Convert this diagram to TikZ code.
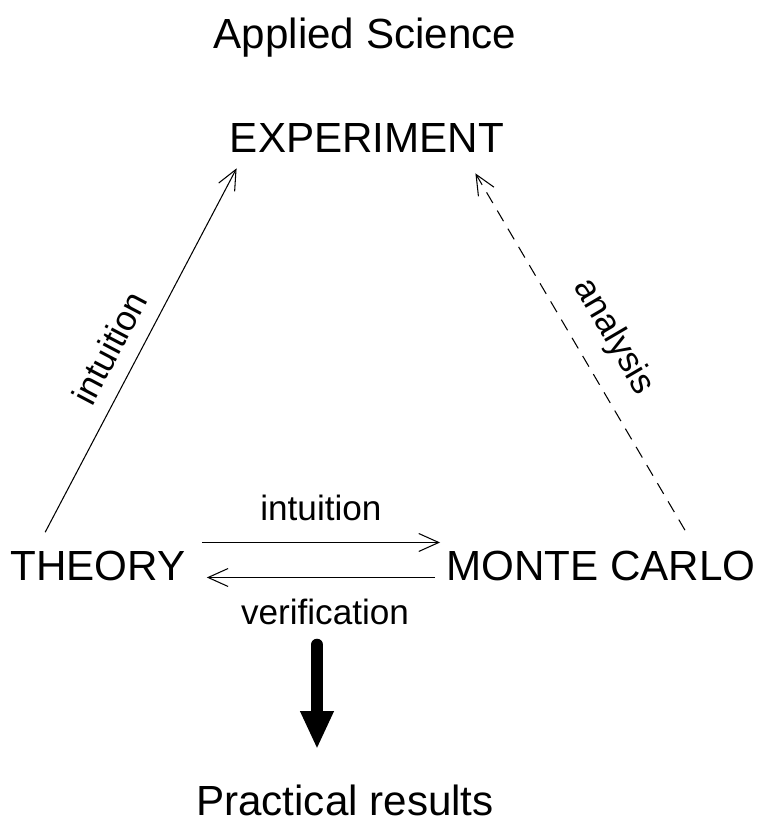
\documentclass[tikz,border=0pt]{standalone}
\usepackage{fontspec}
\setmainfont{Liberation Sans}
\usepackage{tikz}
\usetikzlibrary{calc}
\usetikzlibrary{arrows.meta}
\tikzset{
  bigtext/.style={font=\fontsize{24}{28}\selectfont, inner sep=0pt, anchor=base},
  smalltext/.style={font=\fontsize{20}{24}\selectfont, inner sep=0pt},
  thinarrow/.style={line width=0.6pt, -{Straight Barb[length=4mm,width=3.6mm]}},
  fatarrow/.style={line width=0.24cm, line cap=round, -{Triangle[length=0.76cm,width=0.62cm]}},
}

\begin{document}
\begin{tikzpicture}[x=0.02cm,y=-0.02cm]
\useasboundingbox (0,0) rectangle (765,825);

\node[bigtext] (applied) at (365,48) {Applied Science};
\node[bigtext] (experiment) at (367,152) {EXPERIMENT};
\node[bigtext] (theory) at (98,580) {THEORY};
\node[bigtext] (monte) at (601,580) {MONTE CARLO};
\node[bigtext] (practical) at (345,815) {Practical results};

% triangle sides
\draw[thinarrow] ($(theory.north west)+(35,-18)$) --
  node[smalltext, sloped, above=9pt, pos=.47] (intuitionup) {intuition}
  ($(experiment.south west)+(7,16)$);
\draw[thinarrow, dashed, dash pattern=on 7pt off 5pt] ($(monte.north)+(84,-20)$) --
  node[smalltext, sloped, above=11pt, pos=.49] (analysis) {analysis}
  ($(experiment.south east)+(-29,21)$);

% theory <-> monte carlo
\draw[thinarrow] ($(theory.east)+(16,-23)$) -- ($(monte.west)+(-6,-23)$)
  node[smalltext, midway, above=12pt] (intuitionmid) {intuition};
\draw[thinarrow] ($(monte.west)+(-11,12)$) -- ($(theory.east)+(21,12)$);
\node[smalltext, anchor=base] (verification) at (325,624) {verification};

\draw[fatarrow] ($(verification.south)+(-8,20)$) -- ($(practical.north)+(-28,-35)$);
\end{tikzpicture}
\end{document}
